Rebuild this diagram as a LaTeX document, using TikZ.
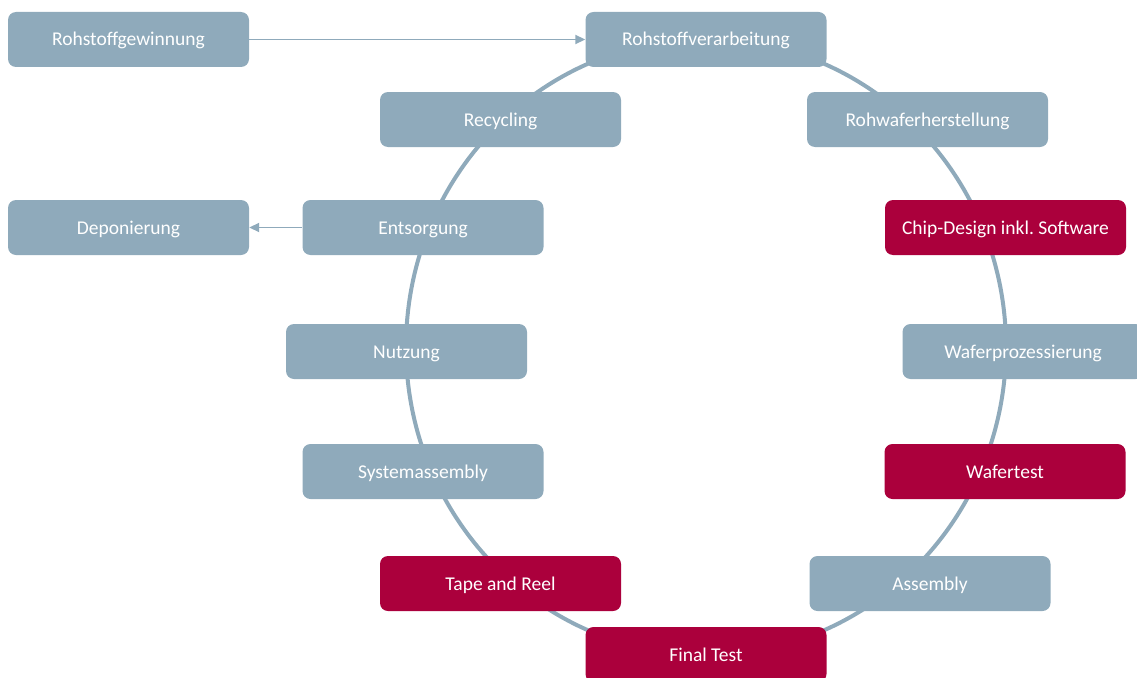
\documentclass[tikz,border=0pt]{standalone}
\usepackage{fontspec}
\setmainfont{Carlito}
\usetikzlibrary{arrows.meta}
\frenchspacing

\definecolor{stepgrey}{HTML}{8FAABB}
\definecolor{stepred}{HTML}{AB003C}
\definecolor{ringline}{HTML}{8FAABB}

\begin{document}
\begin{tikzpicture}[x=1pt,y=-1pt,
  box/.style={fill=#1,text=white,minimum width=241pt,minimum height=55pt,rounded corners=8pt,inner sep=0pt,text height=16pt,text depth=3pt,font=\fontsize{19.5}{23}\selectfont},
  ring/.style={draw=ringline,line width=4pt},
  flow/.style={draw=ringline,line width=1.8pt,-{Triangle[length=10pt,width=9pt]}}]
\useasboundingbox (0,0) rectangle (1137,677);
% the cycle behind the boxes
\coordinate (mid) at (706,347);
\draw[ring] (mid) ellipse [x radius=300,y radius=308];
\foreach \n/\x/\y/\c/\t in %
{gew/128.5/39.5/stepgrey/Rohstoffgewinnung,
 verarb/706/39.5/stepgrey/Rohstoffverarbeitung,
 recyc/500.5/119.5/stepgrey/Recycling,
 rohwafer/927.5/119.5/stepgrey/Rohwaferherstellung,
 depon/128.5/227.5/stepgrey/Deponierung,
 entsorg/423/227.5/stepgrey/Entsorgung,
 chip/1005.5/227.5/stepred/Chip-Design inkl. Software,
 nutz/406.5/351.5/stepgrey/Nutzung,
 waferproz/1023/351.5/stepgrey/Waferprozessierung,
 sysasm/423/471.5/stepgrey/Systemassembly,
 wafertest/1005/471.5/stepred/Wafertest,
 tape/500.5/583.5/stepred/Tape and Reel,
 asm/930/583.5/stepgrey/Assembly,
 final/706/654.5/stepred/Final Test} {
   \node[box=\c] (\n) at (\x,\y) {\t};
}
\draw[flow] (gew) -- (verarb);
\draw[flow] (entsorg) -- (depon);
\end{tikzpicture}
\end{document}
